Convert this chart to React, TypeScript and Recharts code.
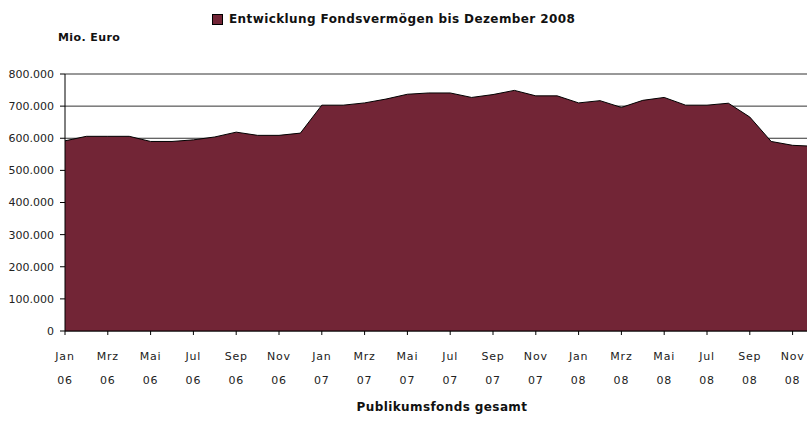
import { AreaChart, Area, XAxis, YAxis, CartesianGrid } from "recharts";

const monate = [
  "Jan 06", "Feb 06", "Mrz 06", "Apr 06", "Mai 06", "Jun 06",
  "Jul 06", "Aug 06", "Sep 06", "Okt 06", "Nov 06", "Dez 06",
  "Jan 07", "Feb 07", "Mrz 07", "Apr 07", "Mai 07", "Jun 07",
  "Jul 07", "Aug 07", "Sep 07", "Okt 07", "Nov 07", "Dez 07",
  "Jan 08", "Feb 08", "Mrz 08", "Apr 08", "Mai 08", "Jun 08",
  "Jul 08", "Aug 08", "Sep 08", "Okt 08", "Nov 08", "Dez 08",
];

// Fondsvermögen Publikumsfonds, Mio. Euro
const vermoegen2006 = [592000, 606000, 606000, 606000, 590000, 590000, 595000, 604000, 619000, 609000, 609000, 616000];
const vermoegen2007 = [703000, 703000, 710000, 722000, 737000, 741000, 741000, 727000, 736000, 749000, 732000, 732000];
const vermoegen2008 = [710000, 717000, 696000, 718000, 727000, 703000, 703000, 709000, 666000, 590000, 578000, 575000];

const yTicks = [0, 100000, 200000, 300000, 400000, 500000, 600000, 700000, 800000];

const werte = [...vermoegen2006, ...vermoegen2007, ...vermoegen2008];
const chartData = monate.map((m, i) => ({ monat: m, wert: werte[i] }));

const FONT = "'DejaVu Sans', Verdana, sans-serif";
const FILL = "#722536";

const fmtDe = (v: number) => String(v).replace(/\B(?=(\d{3})+(?!\d))/g, ".");

// zweizeiliges Label: Monat oben, Jahr darunter
function MonatTick(props: any) {
  const { x, y, payload } = props;
  const [m, j] = String(payload.value).split(" ");
  return (
    <g transform={`translate(${x},${y})`}>
      <text textAnchor="middle" fontSize={11} fill="#222" fontFamily={FONT} letterSpacing={0.8}>
        <tspan x={0} dy={23}>{m}</tspan>
        <tspan x={0} dy={24}>{j}</tspan>
      </text>
    </g>
  );
}

export default function App() {
  return (
    <div
      style={{
        position: "absolute",
        left: 0,
        top: 0,
        width: 807,
        height: 422,
        overflow: "hidden",
        background: "#fff",
        fontFamily: FONT,
      }}
    >
      <div style={{ position: "absolute", left: 212, top: 13, display: "flex", alignItems: "center" }}>
        <span
          style={{
            display: "inline-block",
            width: 9,
            height: 9,
            background: FILL,
            border: "1px solid #000",
            marginRight: 6,
          }}
        />
        <span style={{ fontSize: 12, fontWeight: "bold", color: "#111", lineHeight: "13px", letterSpacing: 0.4 }}>
          Entwicklung Fondsvermögen bis Dezember 2008
        </span>
      </div>
      <div
        style={{
          position: "absolute",
          left: 58,
          top: 31,
          fontSize: 11,
          fontWeight: "bold",
          color: "#111",
          letterSpacing: 0.4,
        }}
      >
        Mio. Euro
      </div>
      <div
        style={{
          position: "absolute",
          left: 0,
          width: 884,
          top: 400,
          textAlign: "center",
          fontSize: 12,
          fontWeight: "bold",
          color: "#111",
          letterSpacing: 0.4,
        }}
      >
        Publikumsfonds gesamt
      </div>
      <div style={{ position: "absolute", left: 0, top: 0 }}>
        <AreaChart
          width={830}
          height={422}
          data={chartData}
          margin={{ top: 74, right: 16, left: 0, bottom: 41 }}
        >
          <CartesianGrid vertical={false} stroke="#333" />
          <XAxis
            dataKey="monat"
            interval={1}
            height={50}
            tickSize={4}
            tickMargin={2}
            axisLine={{ stroke: "#000" }}
            tickLine={{ stroke: "#000" }}
            tick={<MonatTick />}
          />
          <YAxis
            width={65}
            domain={[0, 800000]}
            ticks={yTicks}
            tickFormatter={fmtDe}
            tickSize={5}
            tickMargin={6}
            axisLine={{ stroke: "#000" }}
            tickLine={{ stroke: "#000" }}
            tick={{ fontSize: 11, fill: "#222", fontFamily: FONT }}
          />
          <Area
            type="linear"
            dataKey="wert"
            stroke="#000"
            strokeWidth={1}
            fill={FILL}
            fillOpacity={1}
            isAnimationActive={false}
          />
        </AreaChart>
      </div>
    </div>
  );
}
